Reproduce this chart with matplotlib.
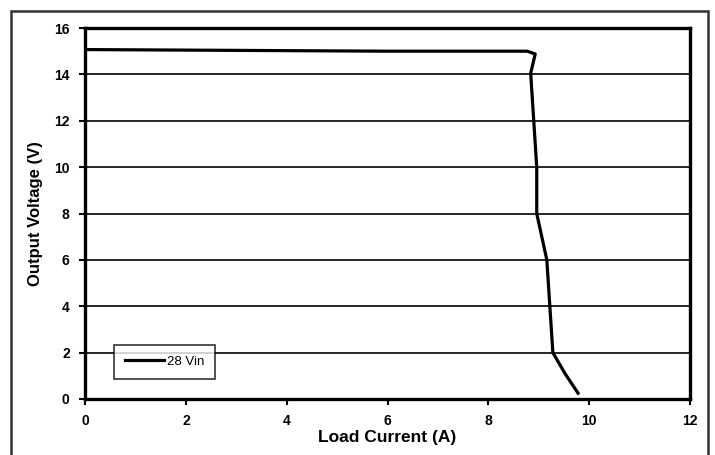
import matplotlib
matplotlib.use("Agg")
import matplotlib.pyplot as plt
from matplotlib.patches import Rectangle

# load curve, 28 Vin
current = [0, 6.0, 8.77, 8.93, 8.84, 8.96, 8.96, 9.16, 9.22, 9.28, 9.52, 9.78]
voltage = [15.07, 15.0, 15.0, 14.88, 14.05, 10.0, 8.0, 6.0, 4.0, 2.0, 1.1, 0.25]
series_name = "28 Vin"

x_ticks = [0, 2, 4, 6, 8, 10, 12]
y_ticks = [0, 2, 4, 6, 8, 10, 12, 14, 16]

plt.rcParams['font.family'] = ['Liberation Sans', 'DejaVu Sans']

fig = plt.figure(figsize=(7.15, 4.55), dpi=100)
ax = fig.add_axes([85 / 715, 1 - 399 / 455, 605 / 715, 371 / 455])

# outer frame round the chart
fig.patches.append(Rectangle((11 / 715, -0.05), 697 / 715, 1.05 - 11 / 455,
                             transform=fig.transFigure, fill=False,
                             edgecolor='#333333', linewidth=1.8))

ax.plot(current, voltage, color='black', linewidth=2.3, label=series_name)

ax.set_xlim(0, 12)
ax.set_ylim(0, 16)
ax.set_xticks(x_ticks)
ax.set_yticks(y_ticks)
ax.yaxis.grid(True, color='black', linewidth=1.2)
ax.set_axisbelow(True)

for s in ax.spines.values():
    s.set_linewidth(2.4)
ax.tick_params(direction='out', length=4, width=1.5, labelsize=10)
ax.tick_params(axis='x', pad=7)
ax.tick_params(axis='y', pad=7)
for lbl in ax.get_xticklabels() + ax.get_yticklabels():
    lbl.set_fontweight('bold')

ax.set_xlabel('Load Current (A)', fontsize=12.5, fontweight='bold', labelpad=1.5)
ax.set_ylabel('Output Voltage (V)', fontsize=12, fontweight='bold', labelpad=8)

leg = ax.legend(loc='lower left', bbox_to_anchor=(0.048, 0.055), fontsize=9.5,
                frameon=True, fancybox=False, handlelength=3.0, handletextpad=0.2,
                borderpad=0.8, borderaxespad=0)
leg.get_frame().set_edgecolor('black')
leg.get_frame().set_linewidth(1.2)

fig.savefig('out.png', dpi=100)
